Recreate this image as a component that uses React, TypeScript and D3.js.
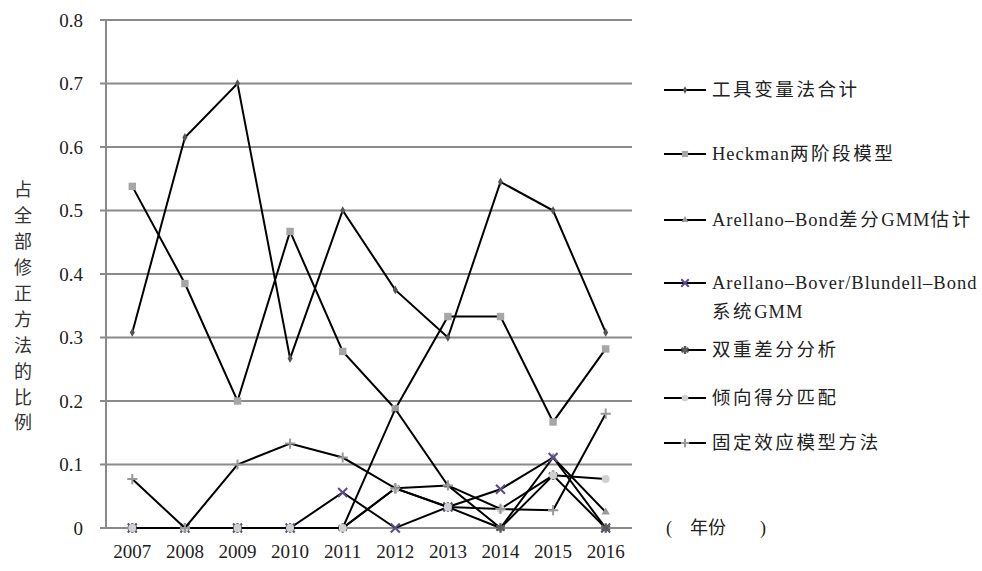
import * as d3 from "d3";

const YEARS = ["2007", "2008", "2009", "2010", "2011", "2012", "2013", "2014", "2015", "2016"];
const Y_TICKS = [0, 0.1, 0.2, 0.3, 0.4, 0.5, 0.6, 0.7, 0.8];

const IV_TOTAL = [0.308, 0.615, 0.7, 0.267, 0.5, 0.375, 0.3, 0.545, 0.5, 0.308];
const HECKMAN = [0.538, 0.385, 0.2, 0.467, 0.278, 0.1875, 0.333, 0.333, 0.167, 0.282];
const AB_GMM = [0, 0, 0, 0, 0, 0.1875, 0.067, 0, 0.111, 0.025];
const SYS_GMM = [0, 0, 0, 0, 0.056, 0, 0.033, 0.061, 0.111, 0];
const DID = [0, 0, 0, 0, 0, 0.0625, 0.033, 0, 0.083, 0];
const PSM = [0, 0, 0, 0, 0, 0.0625, 0.033, 0.03, 0.083, 0.077];
const FIXED = [0.077, 0, 0.1, 0.133, 0.111, 0.0625, 0.067, 0.03, 0.028, 0.18];

const SERIES_NAMES = [
  "工具变量法合计",
  "Heckman两阶段模型",
  "Arellano–Bond差分GMM估计",
  "Arellano–Bover/Blundell–Bond\n系统GMM",
  "双重差分分析",
  "倾向得分匹配",
  "固定效应模型方法",
];

// layout
const W = 982;
const H = 571;
const PLOT = { left: 106, right: 632, top: 20, bottom: 528 };
const LEGEND_X = 664;
const LEGEND_Y = [90, 154, 220, 283, 350, 398, 443];
const FONT = "'Liberation Serif', 'Noto Sans CJK SC', serif";

type Marker = { type: d3.SymbolType; size: number; fill: string; stroke: string; sw: number };

const MARKERS: Marker[] = [
  { type: d3.symbolDiamond, size: 22, fill: "#555", stroke: "none", sw: 0 },
  { type: d3.symbolSquare, size: 55, fill: "#a6a6a6", stroke: "none", sw: 0 },
  { type: d3.symbolTriangle, size: 30, fill: "#999", stroke: "none", sw: 0 },
  { type: d3.symbolX, size: 55, fill: "none", stroke: "#5b4a8c", sw: 2 },
  { type: d3.symbolAsterisk, size: 65, fill: "none", stroke: "#5a5a5a", sw: 2.4 },
  { type: d3.symbolCircle, size: 50, fill: "#d0d0d0", stroke: "none", sw: 0 },
  { type: d3.symbolPlus, size: 36, fill: "none", stroke: "#999", sw: 2 },
];

const SERIES = [IV_TOTAL, HECKMAN, AB_GMM, SYS_GMM, DID, PSM, FIXED];

// split a label into CJK / latin runs so each can get its own spacing
const runs = (s: string) => s.split(/([\u4e00-\u9fff]+)/).filter((r) => r.length > 0);
const isCjk = (s: string) => /[\u4e00-\u9fff]/.test(s);

export default function App() {
  const x = d3.scaleBand<string>().domain(YEARS).range([PLOT.left, PLOT.right]).padding(0);
  const cx = (yr: string) => (x(yr) ?? 0) + x.bandwidth() / 2;
  const y = d3.scaleLinear().domain([0, 0.8]).range([PLOT.bottom, PLOT.top]);

  const line = d3
    .line<number | null>()
    .defined((d) => d != null)
    .x((_, i) => cx(YEARS[i]))
    .y((d) => y(d as number));

  const sym = (m: Marker) => d3.symbol().type(m.type).size(m.size)() ?? "";

  return (
    <svg
      width={W}
      height={H}
      style={{ position: "absolute", left: 0, top: 0, background: "#fff" }}
      fontFamily={FONT}
    >
      {/* grid */}
      {Y_TICKS.map((t) => (
        <g key={t}>
          <line x1={PLOT.left - 6} x2={PLOT.right} y1={y(t)} y2={y(t)} stroke="#8a8a8a" strokeWidth={2} />
          <text x={83} y={y(t)} dy="0.35em" textAnchor="end" fontSize={19} fill="#222">
            {t === 0 ? "0" : d3.format(".1f")(t)}
          </text>
        </g>
      ))}
      <line x1={PLOT.left} x2={PLOT.left} y1={PLOT.top} y2={PLOT.bottom} stroke="#8a8a8a" strokeWidth={2} />

      {YEARS.map((yr) => (
        <text key={yr} x={cx(yr)} y={558} textAnchor="middle" fontSize={19} fill="#222">
          {yr}
        </text>
      ))}

      {/* y axis title, vertical */}
      {Array.from("占全部修正方法的比例").map((ch, i) => (
        <text key={i} x={23} y={190 + i * 25.9} dy="0.35em" textAnchor="middle" fontSize={18} fill="#333">
          {ch}
        </text>
      ))}

      <text y={528} dy="0.35em" fontSize={18} fill="#222">
        <tspan x={666}>(</tspan>
        <tspan x={690}>年份</tspan>
        <tspan x={760}>)</tspan>
      </text>

      {/* series */}
      {SERIES.map((vals, si) => (
        <g key={si}>
          <path d={line(vals) ?? ""} fill="none" stroke="#000" strokeWidth={2} />
          {vals.map((v, i) =>
            v == null ? null : (
              <path
                key={i}
                d={sym(MARKERS[si])}
                transform={`translate(${cx(YEARS[i])},${y(v)})`}
                fill={MARKERS[si].fill}
                stroke={MARKERS[si].stroke}
                strokeWidth={MARKERS[si].sw}
              />
            )
          )}
        </g>
      ))}

      {/* legend */}
      {SERIES_NAMES.map((name, i) => {
        const ly = LEGEND_Y[i];
        const m = MARKERS[i];
        return (
          <g key={name}>
            <line x1={LEGEND_X} x2={LEGEND_X + 42} y1={ly} y2={ly} stroke="#000" strokeWidth={2} />
            <path
              d={d3.symbol().type(m.type).size(m.size * 0.7)() ?? ""}
              transform={`translate(${LEGEND_X + 21},${ly})`}
              fill={m.fill}
              stroke={m.stroke}
              strokeWidth={m.sw}
            />
            {name.split("\n").map((ln, j) => (
              <text key={j} x={LEGEND_X + 48} y={ly + j * 29} dy="0.35em" fontSize={18.5} fill="#222">
                {runs(ln).map((r, k) => (
                  <tspan key={k} letterSpacing={isCjk(r) ? 2.6 : 1}>
                    {r}
                  </tspan>
                ))}
              </text>
            ))}
          </g>
        );
      })}
    </svg>
  );
}
